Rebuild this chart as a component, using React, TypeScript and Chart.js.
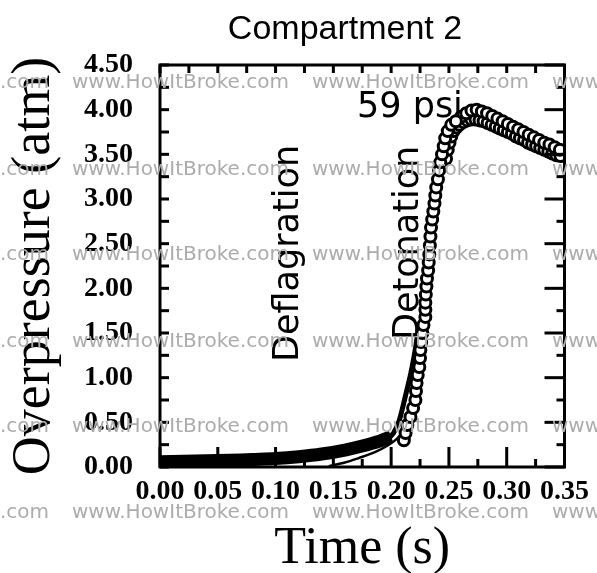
import { useEffect, useRef } from 'react';
import { Chart, registerables } from 'chart.js';

Chart.register(...registerables);

// ---- tick labels ----
const xTickValues = [0, 0.05, 0.1, 0.15, 0.2, 0.25, 0.3, 0.35];
const yTickValues = [0, 0.5, 1, 1.5, 2, 2.5, 3, 3.5, 4, 4.5];

// ---- thick early (deflagration) band ----
const bandTime = [0, 0.02, 0.04, 0.06, 0.08, 0.1, 0.12, 0.14, 0.16, 0.175, 0.19, 0.2];
const bandPressure = [0.06, 0.065, 0.07, 0.075, 0.085, 0.095, 0.115, 0.145, 0.19, 0.235, 0.29, 0.34];

// ---- solid line on left of the rise ----
const leftLineTime = [0.19, 0.197, 0.202, 0.207, 0.213, 0.217, 0.22, 0.2225];
const leftLinePressure = [0.28, 0.32, 0.38, 0.52, 0.83, 1.05, 1.25, 1.45];

// ---- thin line on right of the rise ----
const thinLineTime = [0.146, 0.16, 0.172, 0.185, 0.197, 0.206, 0.213, 0.218, 0.222];
const thinLinePressure = [0.01, 0.05, 0.1, 0.16, 0.24, 0.33, 0.47, 0.62, 0.8];

// ---- circles: steep rise ----
const riseTime = [0.211, 0.2125, 0.214, 0.2167, 0.219, 0.221, 0.2215, 0.222, 0.223, 0.2244, 0.225, 0.2253, 0.226, 0.227, 0.228, 0.2296, 0.2296, 0.2296, 0.23, 0.2305, 0.231, 0.232, 0.2325, 0.233, 0.2335, 0.234, 0.2345, 0.2355, 0.2365, 0.2375, 0.2382, 0.239, 0.2405, 0.2415, 0.2425, 0.244, 0.2455, 0.2468, 0.249, 0.252, 0.256];
const risePressure = [0.3, 0.38, 0.47, 0.56, 0.66, 0.75, 0.85, 0.94, 1.03, 1.12, 1.22, 1.31, 1.4, 1.5, 1.59, 1.68, 1.76, 1.84, 1.93, 2.02, 2.11, 2.2, 2.29, 2.38, 2.48, 2.58, 2.68, 2.77, 2.86, 2.95, 3.04, 3.13, 3.22, 3.32, 3.41, 3.5, 3.59, 3.68, 3.76, 3.83, 3.87];

// ---- circles: upper strand after peak ----
const upperTime = [0.2606, 0.265, 0.2695, 0.274, 0.2785, 0.283, 0.2875, 0.292, 0.2965, 0.301, 0.3055, 0.31, 0.3145, 0.319, 0.3235, 0.328, 0.3325, 0.337, 0.3415, 0.346];
const upperPressure = [3.92, 3.96, 3.99, 4.0, 3.98, 3.96, 3.93, 3.9, 3.87, 3.84, 3.81, 3.78, 3.75, 3.72, 3.69, 3.66, 3.63, 3.61, 3.58, 3.55];

// ---- circles: lower strand ----
const lowerTime = [0.2475, 0.249, 0.2505, 0.252, 0.254, 0.2565, 0.259, 0.2625, 0.266, 0.2695, 0.273, 0.2765, 0.28, 0.2835, 0.287, 0.2905, 0.294, 0.2975, 0.301, 0.3045, 0.308, 0.3115, 0.315, 0.3185, 0.322, 0.3255, 0.329, 0.3325, 0.336, 0.3395, 0.343, 0.3465];
const lowerPressure = [3.45, 3.55, 3.63, 3.7, 3.76, 3.8, 3.83, 3.86, 3.88, 3.89, 3.89, 3.88, 3.87, 3.85, 3.83, 3.81, 3.79, 3.77, 3.75, 3.73, 3.7, 3.68, 3.66, 3.63, 3.61, 3.59, 3.57, 3.55, 3.53, 3.51, 3.49, 3.48];

const WATERMARK = 'www.HowItBroke.com';
const TITLE = 'Compartment 2';

const pts = (xs: number[], ys: number[]) => xs.map((x, i) => ({ x, y: ys[i] }));

const framePlugin = {
  id: 'frame',
  afterDraw(chart: any) {
    const { ctx, chartArea } = chart;
    const { left, right, top, bottom } = chartArea;
    const xs = chart.scales['x'];
    const ys = chart.scales['y'];
    ctx.save();
    ctx.fillStyle = '#000';
    // inward tick marks
    const vt = (x: number, y1: number, len: number) => ctx.fillRect(x - 1.5, Math.min(y1, y1 + len), 3, Math.abs(len));
    const ht = (y: number, x1: number, len: number) => ctx.fillRect(Math.min(x1, x1 + len), y - 1.5, Math.abs(len), 3);
    for (let i = 0; i < xTickValues.length; i++) {
      const v = xTickValues[i];
      const px = xs.getPixelForValue(v);
      vt(px, bottom, -20);
      vt(px, top, 8);
      if (i < xTickValues.length - 1) {
        const m = xs.getPixelForValue((v + xTickValues[i + 1]) / 2);
        vt(m, bottom, -8);
        vt(m, top, 8);
      }
    }
    for (let i = 0; i < yTickValues.length; i++) {
      const v = yTickValues[i];
      const py = ys.getPixelForValue(v);
      ht(py, left, 9);
      ht(py, right, -20);
      if (i < yTickValues.length - 1) {
        const m = ys.getPixelForValue((v + yTickValues[i + 1]) / 2);
        ht(m, left, 9);
        ht(m, right, -8);
      }
    }
    ctx.strokeStyle = '#000';
    ctx.lineWidth = 3;
    ctx.strokeRect(left, top, right - left, bottom - top);

    // annotations
    ctx.fillStyle = '#000';
    ctx.font = '35px "DejaVu Sans"';
    ctx.textAlign = 'left';
    ctx.textBaseline = 'alphabetic';
    ctx.fillText('59 psi', 357, 117);
    ctx.save();
    ctx.translate(298, 362);
    ctx.rotate(-Math.PI / 2);
    ctx.fillText('Deflagration', 0, 0);
    ctx.restore();
    ctx.save();
    ctx.translate(418, 340);
    ctx.rotate(-Math.PI / 2);
    ctx.fillText('Detonation', 0, 0);
    ctx.restore();

    // chart title
    ctx.font = '34px "Liberation Sans"';
    ctx.textAlign = 'center';
    ctx.fillText(TITLE, 345, 39);

    // watermark
    ctx.fillStyle = '#acacac';
    ctx.font = '20px "DejaVu Sans"';
    ctx.textAlign = 'left';
    const rows = [88, 175, 260, 347, 432, 518];
    for (const yy of rows) {
      for (let xx = -168; xx < 597; xx += 240) {
        ctx.fillText(WATERMARK, xx, yy);
      }
    }
    ctx.restore();
  },
};

export default function App() {
  const canvasRef = useRef<HTMLCanvasElement | null>(null);

  useEffect(() => {
    document.body.style.margin = '0';
    const canvas = canvasRef.current;
    if (!canvas) return;

    const circleStyle = {
      showLine: false,
      pointRadius: 5.5,
      pointBorderWidth: 3,
      pointBackgroundColor: '#fff',
      pointBorderColor: '#000',
      clip: 0,
    };

    const chart = new Chart(canvas, {
      type: 'scatter',
      data: {
        datasets: [
          { label: 'rise', data: pts(riseTime, risePressure), ...circleStyle },
          { label: 'upper', data: pts(upperTime, upperPressure), ...circleStyle },
          { label: 'lower', data: pts(lowerTime, lowerPressure), ...circleStyle },
          {
            label: 'left line', data: pts(leftLineTime, leftLinePressure), showLine: true,
            borderColor: '#000', borderWidth: 5, pointRadius: 0, tension: 0.3, clip: 0,
          },
          {
            label: 'thin line', data: pts(thinLineTime, thinLinePressure), showLine: true,
            borderColor: '#000', borderWidth: 2.5, pointRadius: 0, tension: 0.3, clip: 0,
          },
          {
            label: 'band', data: pts(bandTime, bandPressure), showLine: true,
            borderColor: '#000', borderWidth: 13, pointRadius: 0, tension: 0.3,
            borderCapStyle: 'butt', clip: 0,
          },
        ],
      },
      options: {
        responsive: false,
        animation: false,
        events: [],
        layout: { padding: { left: 0, right: 30, top: 65, bottom: 0 } },
        plugins: { legend: { display: false }, title: { display: false }, tooltip: { enabled: false } },
        scales: {
          x: {
            type: 'linear',
            min: 0,
            max: 0.35,
            afterBuildTicks: (s: any) => { s.ticks = xTickValues.map((v) => ({ value: v })); },
            afterFit: (s: any) => { s.height = 106; },
            grid: { display: false, drawTicks: false },
            border: { display: false },
            ticks: {
              autoSkip: false,
              maxRotation: 0,
              padding: 8,
              color: '#000',
              font: { family: '"Liberation Serif"', size: 28, weight: 'bold' },
              callback: (v: any) => Number(v).toFixed(2),
            },
            title: {
              display: true,
              text: 'Time (s)',
              color: '#000',
              font: { family: '"Liberation Serif"', size: 52, lineHeight: 0.9 },
              padding: { top: 0, bottom: 0 },
            },
          },
          y: {
            type: 'linear',
            min: 0,
            max: 4.5,
            afterBuildTicks: (s: any) => { s.ticks = yTickValues.map((v) => ({ value: v })); },
            afterFit: (s: any) => { s.width = 160; },
            grid: { display: false, drawTicks: false },
            border: { display: false },
            ticks: {
              autoSkip: false,
              padding: 27,
              color: '#000',
              font: { family: '"Liberation Serif"', size: 28, weight: 'bold' },
              callback: (v: any) => Number(v).toFixed(2),
            },
            title: {
              display: true,
              text: 'Overpressure (atm)',
              color: '#000',
              font: { family: '"Liberation Serif"', size: 54, lineHeight: 1 },
              padding: { top: 8, bottom: 0 },
            },
          },
        },
      },
      plugins: [framePlugin],
    } as any);

    return () => chart.destroy();
  }, []);

  return (
    <div style={{ width: 597, height: 573, background: '#fff' }}>
      <canvas ref={canvasRef} width={597} height={573} />
    </div>
  );
}
